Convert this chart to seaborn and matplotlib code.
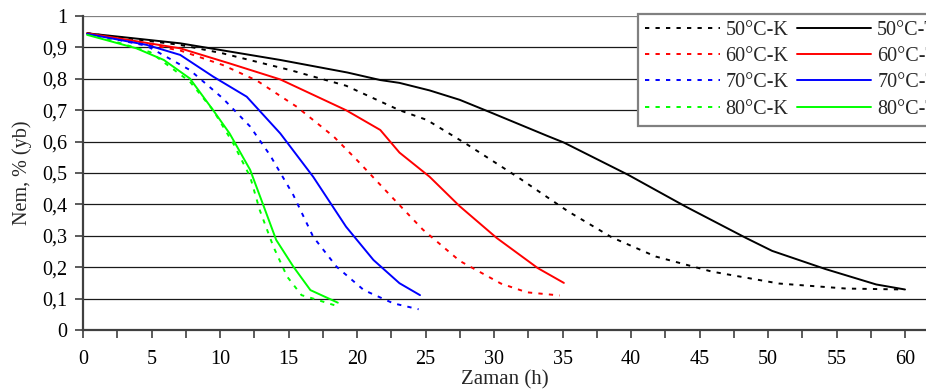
import numpy as np
import pandas as pd
import matplotlib
matplotlib.use("Agg")
import matplotlib.pyplot as plt
import seaborn as sns
from matplotlib.ticker import MultipleLocator, FuncFormatter

# ---- data ----
x_50K = [0.3, 7.1, 10.2, 15.1, 19.2, 23.1, 25.1, 28.0, 31.8, 35.4, 38.6, 41.8, 45.9, 50.8, 55.7, 59.9]
y_50K = [0.945, 0.908, 0.881, 0.828, 0.778, 0.700, 0.669, 0.592, 0.485, 0.378, 0.295, 0.234, 0.186, 0.148, 0.132, 0.129]

x_50T = [0.3, 7.1, 14.4, 19.3, 21.7, 23.1, 25.3, 27.5, 29.75, 33.9, 35.1, 39.8, 43.95, 48.4, 50.3, 54.2, 57.9, 60.0]
y_50T = [0.945, 0.913, 0.860, 0.820, 0.796, 0.787, 0.763, 0.733, 0.693, 0.618, 0.597, 0.494, 0.394, 0.293, 0.252, 0.194, 0.145, 0.129]

x_60K = [0.3, 7.1, 10.2, 12.7, 15.6, 18.3, 20.0, 22.4, 24.8, 27.5, 30.5, 32.4, 34.8]
y_60K = [0.945, 0.890, 0.844, 0.794, 0.711, 0.616, 0.541, 0.430, 0.320, 0.220, 0.148, 0.120, 0.110]

x_60T = [0.3, 7.1, 10.7, 14.4, 19.2, 21.7, 23.1, 25.3, 27.5, 30.2, 33.2, 35.1]
y_60T = [0.945, 0.897, 0.849, 0.798, 0.700, 0.637, 0.565, 0.488, 0.394, 0.293, 0.197, 0.150]

x_70K = [0.3, 4.65, 7.8, 10.2, 12.2, 13.65, 15.35, 16.8, 18.5, 20.5, 22.65, 24.5]
y_70K = [0.945, 0.905, 0.828, 0.738, 0.648, 0.557, 0.430, 0.297, 0.202, 0.127, 0.085, 0.066]

x_70T = [0.3, 4.65, 7.1, 9.5, 11.95, 14.4, 16.8, 19.2, 21.2, 23.1, 24.6]
y_70T = [0.943, 0.908, 0.876, 0.807, 0.743, 0.626, 0.488, 0.329, 0.223, 0.149, 0.111]

x_80K = [0.3, 4.9, 7.8, 9.5, 10.97, 12.2, 12.9, 13.9, 14.9, 15.95, 16.8, 18.5]
y_80K = [0.945, 0.885, 0.791, 0.700, 0.594, 0.488, 0.382, 0.265, 0.170, 0.111, 0.100, 0.077]

x_80T = [0.3, 3.9, 5.9, 7.8, 9.5, 10.7, 12.2, 13.2, 14.1, 15.35, 16.6, 18.6]
y_80T = [0.940, 0.897, 0.860, 0.801, 0.700, 0.626, 0.510, 0.393, 0.287, 0.202, 0.127, 0.087]

series_labels = ["50°C-K", "60°C-K", "70°C-K", "80°C-K", "50°C-T", "60°C-T", "70°C-T", "80°C-T"]
series_x = [x_50K, x_60K, x_70K, x_80K, x_50T, x_60T, x_70T, x_80T]
series_y = [y_50K, y_60K, y_70K, y_80K, y_50T, y_60T, y_70T, y_80T]
series_colors = ["#000000", "#ff0000", "#0000ff", "#00ff00"] * 2

x_ticks = [0, 5, 10, 15, 20, 25, 30, 35, 40, 45, 50, 55, 60]
y_ticks = [0, 0.1, 0.2, 0.3, 0.4, 0.5, 0.6, 0.7, 0.8, 0.9, 1]

# ---- plot ----
sns.set_theme(style="white")
plt.rcParams['font.family'] = ['Liberation Serif', 'DejaVu Serif']

W, H = 926, 390
fig = plt.figure(figsize=(W / 100, H / 100), dpi=100)
x0, x60 = 83, 905
ppu = (x60 - x0) / 60.0
xmax = (W - x0) / ppu
ax = fig.add_axes([x0 / W, (H - 330) / H, (W - x0) / W, (330 - 16) / H])

for i, (lab, xs, ys, c) in enumerate(zip(series_labels, series_x, series_y, series_colors)):
    df = pd.DataFrame({"x": xs, "y": ys})
    ls = (0, (2.2, 3.2)) if lab.endswith("K") else "-"
    sns.lineplot(data=df, x="x", y="y", ax=ax, color=c, linewidth=1.4,
                 linestyle=ls, sort=False, label=lab, zorder=3)

ax.set_xlim(0, xmax)
ax.set_ylim(0, 1)
ax.set_xticks(x_ticks)
ax.xaxis.set_minor_locator(MultipleLocator(2.5))
ax.set_yticks(y_ticks)
ax.yaxis.set_major_formatter(FuncFormatter(lambda v, p: ("%g" % round(v, 1)).replace(".", ",")))

for yv in y_ticks[1:]:
    ax.axhline(yv, color="#1a1a1a" if yv < 1 else "#808080", linewidth=0.9, zorder=1)

for s in ["top", "right"]:
    ax.spines[s].set_visible(False)
for s in ["left", "bottom"]:
    ax.spines[s].set_color("#404040")
    ax.spines[s].set_linewidth(1.6)

ax.tick_params(axis="both", which="both", direction="out", length=5.5, width=1.2,
               color="#404040", labelsize=14.5, labelcolor="black")
ax.tick_params(axis="x", which="both", bottom=True, pad=9)
ax.tick_params(axis="y", left=True, pad=6)
ax.tick_params(axis="x", which="minor", labelbottom=False)

ax.set_xlabel("Zaman (h)", fontsize=15, labelpad=1)
ax.set_ylabel("Nem, % (yb)", fontsize=14.5, labelpad=7)

h, l = ax.get_legend_handles_labels()
leg = ax.legend(h, l, ncol=2, loc="upper left",
                bbox_to_anchor=(638 / W, 1 - 14 / H), bbox_transform=fig.transFigure,
                fontsize=14.5, frameon=True, fancybox=False, framealpha=1,
                edgecolor="#808080", handlelength=3.7, handletextpad=0.3,
                columnspacing=0.4, labelspacing=0.35, borderpad=0.35, borderaxespad=0)
leg.get_frame().set_linewidth(1.6)
leg.set_zorder(5)

fig.savefig("out.png", dpi=100)
